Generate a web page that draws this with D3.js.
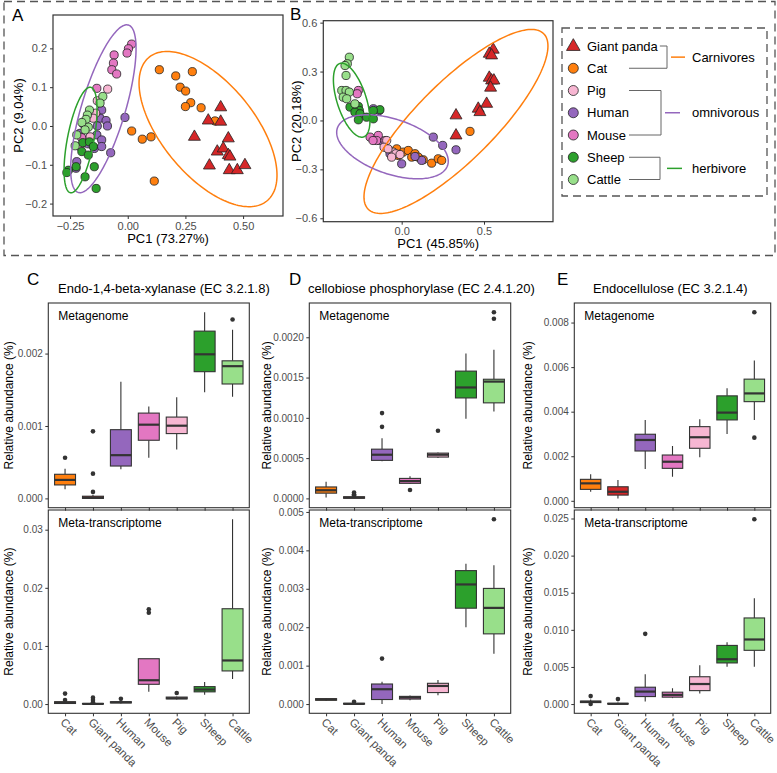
<!DOCTYPE html>
<html>
<head>
<meta charset="utf-8">
<script src="https://cdn.jsdelivr.net/npm/d3@7"></script>
<style>
  body { margin: 0; background: white; }
</style>
</head>
<body>
<div id="chart"></div>
<script>
// ---- data ----
var species = ["Giant panda", "Cat", "Pig", "Human", "Mouse", "Sheep", "Cattle"];
var speciesColors = ["#D62728", "#FF7F0E", "#F7B6D2", "#9467BD", "#E377C2", "#2CA02C", "#98DF8A"];
var boxCats = ["Cat", "Giant panda", "Human", "Mouse", "Pig", "Sheep", "Cattle"];

// PCA A (PC1 73.27%, PC2 9.04%)
var pcaA_cat = [[0.137,0.145],[0.208,0.129],[0.280,0.140],[0.227,0.100],[0.251,0.090],[0.273,0.060],[0.250,0.050],[0.318,0.047],[0.378,0.013],[0.017,-0.013],[0.063,-0.034],[0.101,-0.028],[0.115,-0.142]];
var pcaA_panda = [[0.403,0.048],[0.349,0.014],[0.403,0.011],[0.289,-0.028],[0.436,-0.032],[0.388,-0.066],[0.414,-0.058],[0.436,-0.075],[0.443,-0.079],[0.354,-0.102],[0.440,-0.114],[0.475,-0.114],[0.508,-0.101]];
var pcaA_human = [[-0.113,0.041],[-0.120,0.020],[-0.012,0.022],[-0.094,0.014],[-0.088,0.000],[-0.132,0.000],[-0.192,0.005],[-0.207,-0.019],[-0.134,-0.023],[-0.113,-0.036],[-0.145,-0.058],[-0.113,-0.053],[-0.074,-0.069],[-0.221,-0.092],[-0.224,-0.109],[-0.172,-0.046]];
var pcaA_mouse = [[0.017,0.211],[0.003,0.199],[-0.003,0.188],[-0.059,0.183],[-0.062,0.162],[-0.069,0.145],[-0.048,0.134],[-0.134,0.097],[-0.200,-0.030]];
var pcaA_pig = [[-0.087,0.095],[-0.132,0.065],[-0.139,0.033],[-0.163,-0.028],[-0.207,-0.053],[-0.150,0.020]];
var pcaA_sheep = [[-0.195,-0.043],[-0.166,-0.041],[-0.149,-0.053],[-0.199,-0.066],[-0.171,-0.075],[-0.145,-0.105],[-0.185,-0.131],[-0.224,-0.105],[-0.257,-0.114],[-0.264,-0.120],[-0.137,-0.161]];
var pcaA_cattle = [[-0.108,0.076],[-0.120,0.059],[-0.166,0.041],[-0.175,0.028],[-0.181,0.017],[-0.171,-0.003],[-0.199,0.009],[-0.221,-0.023],[-0.228,-0.051],[-0.185,-0.010]];

// PCA B (PC1 45.85%, PC2 20.18%)
var pcaB_cat = [[-0.030,-0.174],[-0.021,-0.215],[0.010,-0.194],[0.040,-0.184],[0.061,-0.225],[0.081,-0.204],[0.101,-0.225],[0.131,-0.241],[0.182,-0.262],[0.222,-0.235],[0.243,-0.245],[0.415,-0.067]];
var pcaB_panda = [[0.556,0.434],[0.532,0.409],[0.546,0.399],[0.532,0.262],[0.546,0.245],[0.560,0.245],[0.540,0.201],[0.516,0.102],[0.465,0.072],[0.475,0.051],[0.330,0.031],[0.330,-0.092]];
var pcaB_human = [[-0.172,0.072],[-0.136,0.061],[-0.071,-0.204],[0.000,-0.266],[0.192,-0.102],[0.249,-0.153],[0.330,-0.180],[0.121,-0.245],[-0.132,-0.123],[0.081,-0.221]];
var pcaB_mouse = [[-0.263,0.184],[-0.270,0.164],[-0.192,-0.102],[-0.142,-0.092],[-0.152,-0.123],[-0.101,-0.123],[-0.174,-0.123]];
var pcaB_pig = [[-0.091,-0.123],[-0.107,-0.164],[-0.051,-0.194],[-0.035,-0.204],[-0.010,-0.209],[-0.061,-0.225],[-0.083,-0.174]];
var pcaB_sheep = [[-0.314,0.082],[-0.263,0.086],[-0.257,0.061],[-0.284,0.051],[-0.253,0.041],[-0.263,0.004],[-0.213,0.020],[-0.172,0.010],[-0.132,0.066],[-0.172,0.061]];
var pcaB_cattle = [[-0.318,0.388],[-0.330,0.348],[-0.344,0.337],[-0.338,0.276],[-0.364,0.184],[-0.338,0.184],[-0.318,0.174],[-0.355,0.143],[-0.334,0.133],[-0.284,0.102]];

// ellipses: [centre x, centre y, half width x, half height y, tilt r]
var ellA_carn = [0.348, -0.008, 0.299, 0.200, -0.594];
var ellA_omni = [-0.1057, 0.0444, 0.1417, 0.2163, 0.716];
var ellA_herb = [-0.2045, -0.0361, 0.0715, 0.136, 0.576];
var ellB_carn = [0.3297, -0.0061, 0.5586, 0.5644, 0.82];
var ellB_omni = [-0.0559, -0.1613, 0.3388, 0.1963, -0.45];
var ellB_herb = [-0.3036, 0.1245, 0.111, 0.227, -0.55];

var pcaA_xLim = [-0.324, 0.673], pcaA_yLim = [-0.232, 0.286];
var pcaB_xLim = [-0.476, 0.919], pcaB_yLim = [-0.621, 0.612];
var pcaA_xTicks = [-0.25, 0, 0.25, 0.5], pcaA_yTicks = [-0.2, -0.1, 0, 0.1, 0.2];
var pcaB_xTicks = [0, 0.5], pcaB_yTicks = [-0.6, -0.3, 0, 0.3, 0.6];

// boxplot stats per category: [lower whisker, q1, median, q3, upper whisker]
var xylMG = [[0.000127,0.000186,0.000255,0.000333,0.000411],[0,0,0.00001,0.00003,0.00005],[0.000401,0.000447,0.000597,0.000949,0.00161],[0.000562,0.000803,0.001018,0.001178,0.001268],[0.000675,0.000895,0.001004,0.001123,0.001397],[0.001466,0.00175,0.00199,0.00231,0.00257],[0.001405,0.00158,0.001826,0.0019,0.00233]];
var xylMGOut = [[0.000562],[0.00009,0.000342,0.000926],[],[],[],[],[0.00247]];
var xylMT = [[0.00001,0.0001,0.00025,0.0004,0.0005],[0,0,0.00003,0.0001,0.0002],[0.0001,0.0002,0.0003,0.0004,0.0006],[0.0021,0.0034,0.0041,0.0078,0.0078],[0.0008,0.0009,0.001,0.0012,0.0013],[0.0016,0.0021,0.0025,0.003,0.0038],[0.0043,0.0057,0.0075,0.0164,0.0318]];
var xylMTOut = [[0.0018,0.0007],[0.0003,0.0007,0.0011],[0.0009],[0.0157,0.0163],[0.0019],[],[]];
var cbpMG = [[0.000012,0.000065,0.000101,0.000142,0.000208],[0,0.000002,0.00001,0.00002,0.00003],[0.00046,0.000472,0.000542,0.000611,0.000746],[0.00018,0.000187,0.000215,0.000248,0.000276],[0.0005,0.000513,0.000542,0.000562,0.00057],[0.00099,0.001247,0.001377,0.00158,0.0018],[0.00108,0.001186,0.00145,0.001479,0.001846]];
var cbpMGOut = [[],[0.00004,0.00005,0.000073],[0.000888,0.001059],[0.000105],[0.000839],[],[0.00223,0.00231]];
var cbpMT = [[0.00008,0.0001,0.00012,0.00014,0.00016],[0,0,0.000005,0.00002,0.00004],[0,0.000118,0.000386,0.000522,0.000581],[0.0001,0.00013,0.000171,0.0002,0.00022],[0.00023,0.000299,0.000471,0.00054,0.000625],[0.001996,0.002495,0.003113,0.003473,0.003653],[0.001312,0.001827,0.002503,0.00301,0.00361]];
var cbpMTOut = [[],[0.00006],[0.001183],[],[],[],[0.00481]];
var endoMG = [[0.000405,0.000513,0.000783,0.000963,0.001187],[0.000108,0.000256,0.000405,0.00063,0.000931],[0.001426,0.002235,0.00273,0.002987,0.00363],[0.00108,0.001457,0.001754,0.002055,0.00246],[0.001952,0.002357,0.002852,0.003328,0.003661],[0.003,0.00363,0.003958,0.00471,0.005055],[0.00363,0.00445,0.00482,0.00546,0.0063]];
var endoMGOut = [[],[],[],[],[],[],[0.00846,0.002834]];
var endoMT = [[0.0001,0.0002,0.0003,0.0004,0.0006],[0,0,0.00003,0.0001,0.0002],[0.00035,0.00101,0.00168,0.00227,0.004],[0.0008,0.00093,0.00124,0.0016,0.00213],[0.00141,0.00181,0.0027,0.00368,0.00524],[0.00501,0.00554,0.00604,0.0079,0.00834],[0.00501,0.00724,0.0087,0.0116,0.01426]];
var endoMTOut = [[0.00107,0],[0.00067],[0.00946],[],[],[],[0.0249]];

var xylMGTicks = [0, 0.001, 0.002], xylMTTicks = [0, 0.01, 0.02, 0.03];
var cbpMGTicks = [0, 0.0005, 0.001, 0.0015, 0.002], cbpMTTicks = [0, 0.001, 0.002, 0.003, 0.004, 0.005];
var endoMGTicks = [0, 0.002, 0.004, 0.006, 0.008], endoMTTicks = [0, 0.005, 0.01, 0.015, 0.02, 0.025];

// ---- setup ----
var FONT = "'Liberation Sans', Arial, Helvetica, sans-serif";
var color = d3.scaleOrdinal().domain(species).range(speciesColors);

var svg = d3.select("#chart")
   .append("svg")
   .attr("width", 777)
   .attr("height", 773)
   .style("background", "white")
   .style("font-family", FONT);

function styleAxis(sel, fs) {
   sel.select(".domain").remove();
   sel.selectAll(".tick line").attr("stroke", "#333").attr("stroke-width", 1);
   sel.selectAll(".tick text").attr("fill", "#4d4d4d")
      .style("font-size", fs + "px").style("font-family", FONT);
}

function addText(x, y, txt, size, opts) {
   opts = opts || {};
   var t = svg.append("text")
      .attr("x", x).attr("y", y)
      .style("font-size", size + "px")
      .attr("fill", opts.fill || "black")
      .attr("text-anchor", opts.anchor || "start")
      .text(txt);
   if (opts.rotate) t.attr("transform", "rotate(-90," + x + "," + y + ")");
   return t;
}

// outer dashed frame
svg.append("rect")
   .attr("x", 4).attr("y", 1.5).attr("width", 771).attr("height", 254)
   .attr("fill", "none").attr("stroke", "#555").attr("stroke-width", 1.3)
   .attr("stroke-dasharray", "8,5");

// ---- PCA panels ----
function pcaPanel(p) {
   var x = d3.scaleLinear().domain(p.xLim).range([p.x0, p.x1]);
   var y = d3.scaleLinear().domain(p.yLim).range([p.y1, p.y0]);
   var g = svg.append("g");

   var ax = g.append("g").attr("transform", "translate(0," + p.y1 + ")")
      .call(d3.axisBottom(x).tickValues(p.xTicks).tickFormat(d3.format(p.xFmt)).tickSizeOuter(0).tickSize(3).tickPadding(3));
   styleAxis(ax, 11);
   var ay = g.append("g").attr("transform", "translate(" + p.x0 + ",0)")
      .call(d3.axisLeft(y).tickValues(p.yTicks).tickFormat(d3.format(".1f")).tickSizeOuter(0).tickSize(3).tickPadding(3));
   styleAxis(ay, 11);

   var plot = g.append("g");
   p.groups.forEach(function (gr) {
      if (gr.name === "Giant panda") {
         plot.selectAll(null).data(gr.pts).enter()
            .append("path")
            .attr("d", d3.symbol().type(d3.symbolTriangle).size(62))
            .attr("transform", function (d) { return "translate(" + x(d[0]) + "," + y(d[1]) + ")"; })
            .attr("fill", color(gr.name)).attr("stroke", "#222").attr("stroke-width", 0.8);
      } else {
         plot.selectAll(null).data(gr.pts).enter()
            .append("circle")
            .attr("cx", function (d) { return x(d[0]); })
            .attr("cy", function (d) { return y(d[1]); })
            .attr("r", 4.1)
            .attr("fill", color(gr.name)).attr("stroke", "#222").attr("stroke-width", 0.8);
      }
   });

   var line = d3.line().curve(d3.curveLinearClosed);
   p.ellipses.forEach(function (e) {
      var par = e.par, delta = Math.acos(par[4]);
      var pts = d3.range(0, 2 * Math.PI, Math.PI / 90).map(function (t) {
         return [x(par[0] + par[2] * Math.cos(t)), y(par[1] + par[3] * Math.cos(t - delta))];
      });
      plot.append("path").attr("d", line(pts))
         .attr("fill", "none").attr("stroke", e.color).attr("stroke-width", 1.5);
   });

   g.append("rect")
      .attr("x", p.x0).attr("y", p.y0)
      .attr("width", p.x1 - p.x0).attr("height", p.y1 - p.y0)
      .attr("fill", "none").attr("stroke", "#333").attr("stroke-width", 1.2);

   addText((p.x0 + p.x1) / 2, p.xTitleY, p.xTitle, 13, { anchor: "middle" });
   addText(p.yTitleX, (p.y0 + p.y1) / 2, p.yTitle, 13, { anchor: "middle", rotate: true });
   addText(p.letterX, p.letterY, p.letter, 17);
}

pcaPanel({
   x0: 53, x1: 283, y0: 15, y1: 216,
   xLim: pcaA_xLim, yLim: pcaA_yLim, xTicks: pcaA_xTicks, yTicks: pcaA_yTicks, xFmt: ".2f",
   groups: [
      { name: "Cat", pts: pcaA_cat }, { name: "Giant panda", pts: pcaA_panda },
      { name: "Human", pts: pcaA_human }, { name: "Mouse", pts: pcaA_mouse },
      { name: "Pig", pts: pcaA_pig }, { name: "Sheep", pts: pcaA_sheep },
      { name: "Cattle", pts: pcaA_cattle }
   ],
   ellipses: [
      { par: ellA_carn, color: "#FF7F0E" }, { par: ellA_omni, color: "#9467BD" }, { par: ellA_herb, color: "#2CA02C" }
   ],
   xTitle: "PC1 (73.27%)", xTitleY: 243, yTitle: "PC2 (9.04%)", yTitleX: 23,
   letter: "A", letterX: 12, letterY: 21
});

pcaPanel({
   x0: 323.3, x1: 553, y0: 20.7, y1: 221.7,
   xLim: pcaB_xLim, yLim: pcaB_yLim, xTicks: pcaB_xTicks, yTicks: pcaB_yTicks, xFmt: ".1f",
   groups: [
      { name: "Cat", pts: pcaB_cat }, { name: "Giant panda", pts: pcaB_panda },
      { name: "Human", pts: pcaB_human }, { name: "Mouse", pts: pcaB_mouse },
      { name: "Pig", pts: pcaB_pig }, { name: "Sheep", pts: pcaB_sheep },
      { name: "Cattle", pts: pcaB_cattle }
   ],
   ellipses: [
      { par: ellB_carn, color: "#FF7F0E" }, { par: ellB_omni, color: "#9467BD" }, { par: ellB_herb, color: "#2CA02C" }
   ],
   xTitle: "PC1 (45.85%)", xTitleY: 248, yTitle: "PC2 (20.18%)", yTitleX: 301,
   letter: "B", letterX: 290, letterY: 20
});

// ---- legend ----
svg.append("rect")
   .attr("x", 562).attr("y", 28).attr("width", 205).attr("height", 168)
   .attr("fill", "white").attr("stroke", "#555").attr("stroke-width", 1.3)
   .attr("stroke-dasharray", "8,5");

var ly = d3.scalePoint().domain(species).range([46, 179.5]);
var legend = svg.append("g");
species.forEach(function (s) {
   if (s === "Giant panda") {
      legend.append("path")
         .attr("d", d3.symbol().type(d3.symbolTriangle).size(80))
         .attr("transform", "translate(573.3," + (ly(s) + 0.5) + ")")
         .attr("fill", color(s)).attr("stroke", "#222").attr("stroke-width", 0.8);
   } else {
      legend.append("circle").attr("cx", 573.3).attr("cy", ly(s)).attr("r", 5)
         .attr("fill", color(s)).attr("stroke", "#222").attr("stroke-width", 0.8);
   }
   legend.append("text").attr("x", 587).attr("y", ly(s))
      .attr("dy", "0.35em").style("font-size", "13px").attr("fill", "black").text(s);
});

var legendTextEnd = {};
legend.selectAll("text").each(function () {
   legendTextEnd[this.textContent] = 587 + this.getComputedTextLength();
});

var diet = [
   { label: "Carnivores", members: ["Giant panda", "Cat"], color: "#FF7F0E", bx: 667, k0: 671, k1: 685 },
   { label: "omnivorous", members: ["Pig", "Mouse"], color: "#9467BD", bx: 661, k0: 665, k1: 680 },
   { label: "herbivore", members: ["Sheep", "Cattle"], color: "#2CA02C", bx: 660, k0: 667, k1: 682 }
];
diet.forEach(function (d) {
   var yA = ly(d.members[0]), yB = ly(d.members[1]);
   var path = d3.path();
   path.moveTo(Math.max(629, legendTextEnd[d.members[0]] + 2), yA);
   path.lineTo(d.bx, yA);
   path.lineTo(d.bx, yB);
   path.lineTo(Math.max(629, legendTextEnd[d.members[1]] + 2), yB);
   legend.append("path").attr("d", path.toString())
      .attr("fill", "none").attr("stroke", "#666").attr("stroke-width", 1);
   var ym = (yA + yB) / 2;
   legend.append("line").attr("x1", d.k0).attr("x2", d.k1).attr("y1", ym).attr("y2", ym)
      .attr("stroke", d.color).attr("stroke-width", 1.5);
   legend.append("text").attr("x", 692).attr("y", ym).attr("dy", "0.35em")
      .style("font-size", "13px").attr("fill", "black").text(d.label);
});

// ---- boxplot panels ----
function boxPanel(o) {
   var x = d3.scalePoint().domain(boxCats).range([o.x0, o.x1]).padding(0.6);
   var vals = d3.merge(o.stats).concat(d3.merge(o.out));
   var lo = d3.min(vals), hi = d3.max(vals), pad = (hi - lo) * 0.05;
   var y = d3.scaleLinear().domain([lo - pad, hi + pad]).range([o.y1, o.y0]);
   var bw = x.step() * 0.75;
   var g = svg.append("g");

   var ax = g.append("g").attr("transform", "translate(0," + o.y1 + ")")
      .call(d3.axisBottom(x).tickSizeOuter(0).tickSize(3));
   styleAxis(ax, 11.5);
   if (o.xLabels) {
      ax.selectAll(".tick text")
         .attr("x", 0).attr("y", 0).attr("dy", "0.71em")
         .attr("transform", "translate(0,4) rotate(45)")
         .style("text-anchor", "start");
   } else {
      ax.selectAll(".tick text").remove();
   }
   var ay = g.append("g").attr("transform", "translate(" + o.x0 + ",0)")
      .call(d3.axisLeft(y).tickValues(o.ticks).tickFormat(d3.format(o.fmt)).tickSizeOuter(0).tickSize(3).tickPadding(2.5));
   styleAxis(ay, 10);

   var boxes = g.selectAll(null).data(o.stats).enter().append("g")
      .attr("transform", function (d, i) { return "translate(" + x(boxCats[i]) + ",0)"; });
   boxes.append("line").attr("y1", function (d) { return y(d[0]); }).attr("y2", function (d) { return y(d[1]); })
      .attr("stroke", "#333").attr("stroke-width", 1.1);
   boxes.append("line").attr("y1", function (d) { return y(d[3]); }).attr("y2", function (d) { return y(d[4]); })
      .attr("stroke", "#333").attr("stroke-width", 1.1);
   boxes.append("rect")
      .attr("x", -bw / 2).attr("width", bw)
      .attr("y", function (d) { return y(d[3]); })
      .attr("height", function (d) { return Math.max(0.5, y(d[1]) - y(d[3])); })
      .attr("fill", function (d, i) { return color(boxCats[i]); })
      .attr("stroke", "#333").attr("stroke-width", 1.1);
   boxes.append("line").attr("x1", -bw / 2).attr("x2", bw / 2)
      .attr("y1", function (d) { return y(d[2]); }).attr("y2", function (d) { return y(d[2]); })
      .attr("stroke", "#333").attr("stroke-width", 2.2);
   boxes.each(function (d, i) {
      d3.select(this).selectAll("circle").data(o.out[i]).enter().append("circle")
         .attr("cx", 0).attr("cy", function (v) { return y(v); }).attr("r", 2.3).attr("fill", "#333");
   });

   g.append("rect")
      .attr("x", o.x0).attr("y", o.y0)
      .attr("width", o.x1 - o.x0).attr("height", o.y1 - o.y0)
      .attr("fill", "none").attr("stroke", "#333").attr("stroke-width", 1.1);

   addText(o.x0 + 10, o.y0 + 17, o.label, 12);
   addText(o.titleX, (o.y0 + o.y1) / 2, "Relative abundance (%)", 12, { anchor: "middle", rotate: true });
}

var upper = [303, 507.7], lower = [510, 713.3];
var cols = [
   { x0: 48.3, x1: 249.3, tx: 13, letter: "C", lx: 27, title: "Endo-1,4-beta-xylanase (EC 3.2.1.8)", titleX: 58,
     mg: xylMG, mgOut: xylMGOut, mt: xylMT, mtOut: xylMTOut, mgT: xylMGTicks, mtT: xylMTTicks, mgF: ".3f", mtF: ".2f" },
   { x0: 309.3, x1: 510.7, tx: 271, letter: "D", lx: 289, title: "cellobiose phosphorylase (EC 2.4.1.20)", titleX: 308,
     mg: cbpMG, mgOut: cbpMGOut, mt: cbpMT, mtOut: cbpMTOut, mgT: cbpMGTicks, mtT: cbpMTTicks, mgF: ".4f", mtF: ".3f" },
   { x0: 574.3, x1: 770.7, tx: 532, letter: "E", lx: 557, title: "Endocellulose (EC 3.2.1.4)", titleX: 593,
     mg: endoMG, mgOut: endoMGOut, mt: endoMT, mtOut: endoMTOut, mgT: endoMGTicks, mtT: endoMTTicks, mgF: ".3f", mtF: ".3f" }
];
cols.forEach(function (c) {
   boxPanel({ x0: c.x0, x1: c.x1, y0: upper[0], y1: upper[1], stats: c.mg, out: c.mgOut,
      ticks: c.mgT, fmt: c.mgF, label: "Metagenome", titleX: c.tx, xLabels: false });
   boxPanel({ x0: c.x0, x1: c.x1, y0: lower[0], y1: lower[1], stats: c.mt, out: c.mtOut,
      ticks: c.mtT, fmt: c.mtF, label: "Meta-transcriptome", titleX: c.tx, xLabels: true });
   addText(c.lx, 285, c.letter, 17);
   addText(c.titleX, 293, c.title, 13);
});
</script>
</body>
</html>
